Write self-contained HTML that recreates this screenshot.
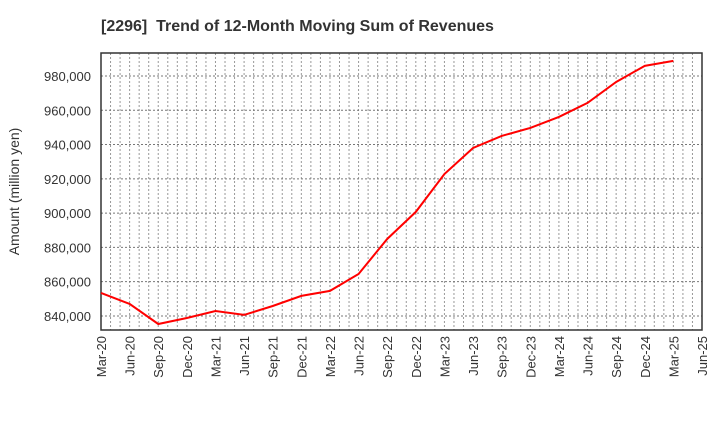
<!DOCTYPE html>
<html><head><meta charset="utf-8"><style>
body{margin:0;background:#fff;font-family:"Liberation Sans",sans-serif}
</style></head><body>
<svg id="c" width="720" height="440" xmlns="http://www.w3.org/2000/svg"></svg>
<script>
const categories=["Mar-20","Jun-20","Sep-20","Dec-20","Mar-21","Jun-21","Sep-21","Dec-21","Mar-22","Jun-22","Sep-22","Dec-22","Mar-23","Jun-23","Sep-23","Dec-23","Mar-24","Jun-24","Sep-24","Dec-24","Mar-25","Jun-25"];
const revenues=[853.4,847,835.3,838.8,842.9,840.6,845.8,851.7,854.6,864.5,884.9,900.7,922.8,938,945,949.7,956.1,964.3,976.5,985.9,988.8];
const yTicks=[840000,860000,880000,900000,920000,940000,960000,980000];
const NS="http://www.w3.org/2000/svg";
const svg=document.getElementById('c');
const L=101,R=702,T=53,B=330,yMin=831.8,yMax=993.4;
const xs=i=>L+(R-L)*i/(categories.length-1);
const ys=v=>B-(v-yMin)/(yMax-yMin)*(B-T);
function mk(t,a){const e=document.createElementNS(NS,t);for(const k in a)e.setAttribute(k,a[k]);svg.appendChild(e);return e;}
let t=mk('text',{x:101,y:31,'text-anchor':'start','font-size':16,'font-weight':'bold',fill:'#333','xml:space':'preserve'});


t.style.whiteSpace='pre';
t.textContent='[2296]  Trend of 12-Month Moving Sum of Revenues';
for(let m=1;m<(categories.length-1)*3;m++){
 const x=L+(R-L)*m/((categories.length-1)*3);
 const g=mk('line',{x1:x,x2:x,y1:T,y2:B,stroke:'#999','stroke-dasharray':'2,2','stroke-width':1});
 
 
}
yTicks.forEach(v=>{
 const y=ys(v/1000);
 const g=mk('line',{x1:L,x2:R,y1:y,y2:y,stroke:'#777','stroke-dasharray':'2,2','stroke-width':1});
 
 
 const l=mk('text',{x:L-10,y:y+5,'text-anchor':'end','font-size':13,fill:'#333'});
 
 
 l.textContent=v.toLocaleString('en-US');
});
categories.forEach((c,i)=>{
 const x=xs(i);
 const l=mk('text',{x:0,y:0,'text-anchor':'end','font-size':13,fill:'#333',transform:`translate(${x+5},${B+6}) rotate(-90)`});
 
 
 l.textContent=c;
});
const fr=mk('rect',{x:L,y:T,width:R-L,height:B-T,fill:'none',stroke:'#333','stroke-width':1.5});


const yt=mk('text',{x:0,y:0,'text-anchor':'middle','font-size':14,fill:'#333',transform:`translate(19,${(T+B)/2}) rotate(-90)`});


yt.textContent='Amount (million yen)';
const p=mk('polyline',{points:revenues.map((v,i)=>xs(i)+','+ys(v)).join(' '),fill:'none',stroke:'#f00','stroke-width':2});


</script>
</body></html>
